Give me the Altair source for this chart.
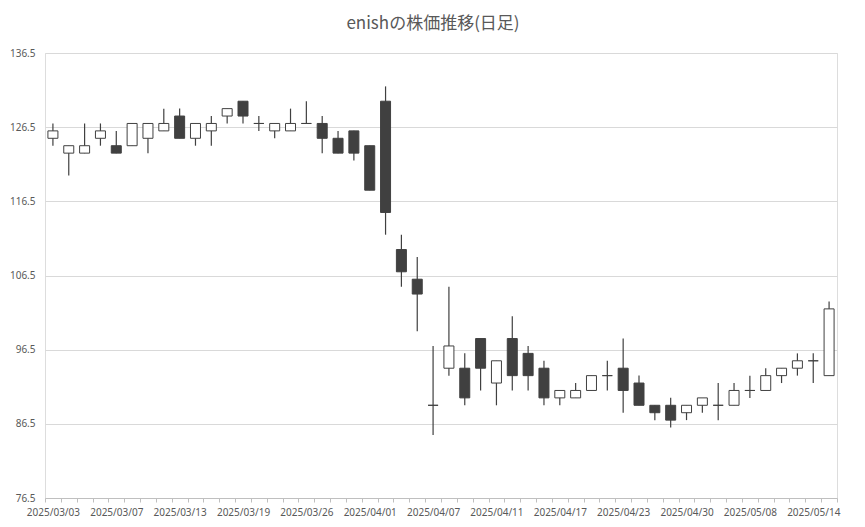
import altair as alt
import pandas as pd

dates = [
    "2025/03/03", "2025/03/04", "2025/03/05", "2025/03/06", "2025/03/07",
    "2025/03/10", "2025/03/11", "2025/03/12", "2025/03/13", "2025/03/14",
    "2025/03/17", "2025/03/18", "2025/03/19", "2025/03/21", "2025/03/24",
    "2025/03/25", "2025/03/26", "2025/03/27", "2025/03/28", "2025/03/31",
    "2025/04/01", "2025/04/02", "2025/04/03", "2025/04/04", "2025/04/07",
    "2025/04/08", "2025/04/09", "2025/04/10", "2025/04/11", "2025/04/14",
    "2025/04/15", "2025/04/16", "2025/04/17", "2025/04/18", "2025/04/21",
    "2025/04/22", "2025/04/23", "2025/04/24", "2025/04/25", "2025/04/28",
    "2025/04/30", "2025/05/01", "2025/05/02", "2025/05/07", "2025/05/08",
    "2025/05/09", "2025/05/12", "2025/05/13", "2025/05/14", "2025/05/15",
]
opens = [125, 123, 123, 125, 124, 124, 125, 126, 128, 125,
         126, 128, 130, 127, 126, 126, 127, 127, 125, 126,
         124, 130, 110, 106, 89, 94, 94, 98, 92, 98,
         96, 94, 90, 90, 91, 93, 94, 92, 89, 89,
         88, 89, 89, 89, 91, 91, 93, 94, 95, 93]
highs = [127, 124, 127, 127, 126, 127, 127, 129, 129, 127,
         128, 129, 130, 128, 127, 129, 130, 128, 126, 126,
         124, 132, 112, 109, 97, 105, 96, 98, 95, 101,
         97, 95, 91, 92, 93, 95, 98, 93, 89, 90,
         89, 90, 92, 92, 93, 94, 94, 96, 96, 103]
lows = [124, 120, 123, 124, 123, 124, 123, 126, 125, 124,
        124, 127, 127, 126, 125, 126, 127, 123, 123, 122,
        118, 112, 105, 99, 85, 93, 89, 91, 89, 91,
        91, 89, 89, 90, 91, 91, 88, 89, 87, 86,
        87, 88, 87, 89, 90, 91, 92, 93, 92, 93]
closes = [126, 124, 124, 126, 123, 127, 127, 127, 125, 127,
          127, 129, 128, 127, 127, 127, 127, 125, 123, 123,
          118, 115, 107, 104, 89, 97, 90, 94, 95, 93,
          93, 90, 91, 91, 93, 93, 91, 89, 88, 87,
          89, 90, 89, 91, 91, 93, 94, 95, 95, 102]
y_ticks = [76.5, 86.5, 96.5, 106.5, 116.5, 126.5, 136.5]
label_dates = dates[::4]

df = pd.DataFrame({"date": dates, "open": opens, "high": highs,
                   "low": lows, "close": closes})
df["dir"] = ["up" if c >= o else "down" for o, c in zip(opens, closes)]

label_list = ",".join("'" + d + "'" for d in label_dates)
label_expr = f"indexof([{label_list}], datum.value) >= 0 ? datum.value : ''"

text_color = "#595959"
grid_color = "#d9d9d9"
candle_color = "#404040"

x_enc = alt.X(
    "date:O",
    scale=alt.Scale(domain=dates, paddingInner=0, paddingOuter=0),
    axis=alt.Axis(
        title=None, labelAngle=0, tickBand="extent", labelExpr=label_expr,
        labelOverlap=False, domainColor="#bfbfbf", tickColor="#bfbfbf",
        tickSize=4, labelColor=text_color, labelFontSize=10,
        labelFont="Noto Sans", labelPadding=5, grid=False,
    ),
)

y_scale = alt.Scale(domain=[76.5, 136.5], nice=False, zero=False)

wicks = alt.Chart(df).mark_rule(color=candle_color, strokeWidth=1.2).encode(
    x=x_enc,
    y=alt.Y("low:Q", scale=y_scale,
            axis=alt.Axis(values=y_ticks, title=None, domain=False, ticks=False,
                          format=".1f", gridColor=grid_color,
                          labelColor=text_color, labelFontSize=10,
                          labelFont="Noto Sans", labelPadding=10)),
    y2="high:Q",
)

bodies = alt.Chart(df).mark_bar(size=10, stroke=candle_color, strokeWidth=1).encode(
    x=x_enc,
    y=alt.Y("open:Q", scale=y_scale, title=None),
    y2="close:Q",
    fill=alt.Fill("dir:N", scale=alt.Scale(domain=["up", "down"],
                                          range=["#ffffff", candle_color]),
                  legend=None),
)

chart = alt.layer(wicks, bodies).properties(
    width=792,
    height=445,
    autosize=alt.AutoSizeParams(type="none"),
    padding={"left": 37, "top": 45, "right": 20, "bottom": 20},
    title=alt.TitleParams("enishの株価推移(日足)", font="Noto Sans CJK JP",
                          fontSize=17, fontWeight="normal", color=text_color,
                          anchor="middle", offset=15, dx=-8),
).configure_view(stroke=None).configure(background="white")

chart.save("out.html", embed_options={"renderer": "svg", "actions": False})
